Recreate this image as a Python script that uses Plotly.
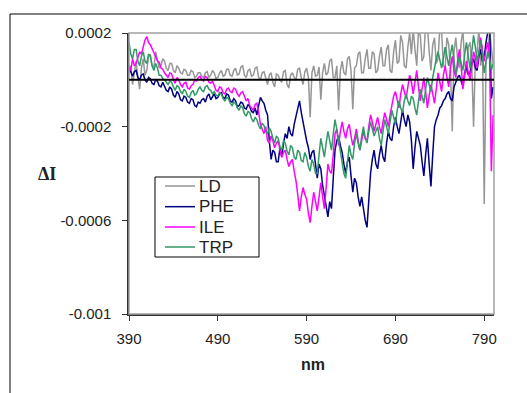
import plotly.graph_objects as go

# Wavelength grid (nm), 2 nm spacing
wavelength = list(range(390, 801, 2))

# Difference intensity, in units of 1e-4 (one row = 20 nm)
ld = [0.3, 0.6, -0.2, 0.4, 0.8, 0.1, -0.4, 0.5, 0.9, 0.2,
      0.4, 1.0, 1.1, 0.6, 0.5, 1.2, 0.9, 0.5, 0.6, 0.9,
      0.8, 0.5, 0.4, 0.7, 0.7, 0.4, 0.3, 0.6, 0.5, 0.3,
      0.25, 0.45, 0.4, 0.2, 0.2, 0.4, 0.35, 0.1, 0.15, 0.3,
      0.3, 0.15, 0.1, 0.3, 0.35, 0.1, 0.2, 0.4, 0.3, 0.05,
      0.1, 0.3, 0.4, 0.15, 0.2, 0.45, 0.45, 0.2, 0.15, 0.4,
      0.5, 0.2, 0.25, 0.55, 0.6, 0.2, 0.1, 0.4, 0.45, 0.15,
      0.2, 0.5, 0.55, 0.1, 0.0, 0.3, 0.35, 0.05, -0.2, 0.2,
      0.3, -0.1, -0.3, 0.25, 0.2, 0.0, -0.1, 0.35, 0.4, -0.2,
      -0.35, 0.2, 0.3, 0.1, 0.0, 0.45, 0.5, 0.1, -0.2, 0.35,
      0.5, 0.1, -1.6, 0.3, 0.6, 0.15, 0.2, 0.55, -0.85, 0.3,
      0.7, 0.2, 0.3, 0.8, 0.9, 0.1, 0.1, 0.6, -1.3, 0.4,
      0.8, 0.3, 0.2, 0.9, 1.0, 0.4, -1.25, 0.5, 0.6, 1.1,
      1.2, 0.3, 0.3, 0.9, 1.3, 0.5, 0.5, 1.2, 1.1, 0.3,
      0.4, 1.0, 1.4, 0.6, 0.6, 1.3, 1.5, 0.4, 0.3, 1.2,
      1.7, 0.7, 0.8, 1.9, 1.6, 0.6, 0.5, 1.4, 2.0, 1.1,
      2.2, 1.3, 0.6, 2.1, 1.9, 0.8, 1.0, 2.4, 2.3, 1.2,
      0.4, 1.5, 1.8, 0.7, 0.9, 2.2, 2.1, 0.6, 0.5, 1.8,
      1.5, 0.4, -2.2, 1.2, 1.8, 0.9, 0.5, 1.6, 2.1, 0.7,
      0.3, 1.4, 1.6, 0.6, -2.0, 0.9, 1.2, 2.2, 0.6, 1.5,
      -5.3, 0.8, 1.0, 2.1, 1.5, 0.7]

phe = [0.55, 0.3, 0.15, 0.35, 0.4, 0.1, 0.0, 0.2, 0.25, 0.0,
       -0.1, 0.1, 0.05, -0.15, -0.2, 0.0, -0.05, -0.25, -0.3, -0.1,
       -0.25, -0.45, -0.5, -0.3, -0.4, -0.65, -0.75, -0.5, -0.6, -0.85,
       -0.9, -0.7, -0.75, -0.95, -1.0, -0.8, -0.85, -1.1, -1.15, -0.95,
       -1.0, -0.85, -0.8, -0.95, -0.7, -0.6, -0.85, -0.7, -0.6, -0.8,
       -0.75, -0.6, -0.55, -0.75, -0.8, -0.6, -0.65, -0.9, -0.95, -0.8,
       -0.9, -1.15, -1.1, -0.95, -1.0, -1.2, -1.25, -1.05, -1.15, -1.35,
       -1.4, -1.2, -1.5, -1.1, -0.75, -0.9, -1.0, -1.3, -1.5, -2.6,
       -3.4, -3.0, -3.1, -3.5, -3.5, -2.9, -3.3, -2.7, -2.3, -2.5,
       -2.0, -2.3, -2.4, -1.9, -1.6, -1.3, -0.9, -1.4, -1.9, -2.2,
       -2.6, -2.9, -3.4, -3.1, -3.0, -3.7, -4.2, -3.6, -3.8, -4.5,
       -5.0, -5.5, -5.85, -5.2, -5.5, -4.2, -3.0, -2.6, -2.4, -2.8,
       -3.1, -3.6, -4.0, -3.5, -3.3, -4.1, -4.8, -4.2, -4.4, -5.0,
       -5.4, -5.0, -5.6, -6.0, -6.3, -5.2, -4.0, -3.4, -3.0, -3.6,
       -3.8, -3.2, -2.8, -3.3, -3.5, -2.7, -2.2, -2.5, -2.6, -2.0,
       -1.6, -2.0, -2.3, -1.8, -1.3, -1.7, -2.0, -1.5, -1.8, -2.6,
       -3.8, -2.9, -2.2, -2.5, -2.8, -3.5, -4.1, -3.2, -2.5, -3.6,
       -4.55, -3.2, -2.0, -1.7, -1.5, -1.2, -1.1, -0.9, -0.8, -0.6,
       -0.5, -0.8, -0.9, -0.3, -0.1, 0.1, 0.2, -0.1, -0.3, 0.3,
       0.6, 0.2, 0.3, 0.7, 0.9, 0.5, 0.4, 1.0, 1.3, 0.8,
       1.0, 1.6, 2.2, 2.5, -0.8, -0.3]

ile = [0.6, 0.4, 0.9, 0.6, 0.7, 1.0, 1.2, 1.1, 1.4, 1.7,
       1.85, 1.6, 1.5, 1.35, 1.2, 1.0, 0.8, 0.75, 0.5, 0.45,
       0.3, 0.2, 0.1, 0.3, 0.25, 0.0, -0.15, 0.1, 0.0, -0.2,
       -0.3, -0.15, -0.1, -0.35, -0.4, -0.25, -0.2, 0.0, -0.05, 0.1,
       0.15, 0.0, -0.05, 0.15, 0.1, -0.1, -0.15, -0.05, -0.3, -0.45,
       -0.5, -0.3, -0.35, -0.55, -0.6, -0.4, -0.35, -0.5, -0.55, -0.35,
       -0.4, -0.6, -0.7, -0.55, -0.5, -0.75, -0.9, -0.8, -1.1, -1.2,
       -1.3, -1.05, -1.0, -1.4, -1.9, -2.1, -2.3, -2.0, -2.6, -2.7,
       -2.4, -2.6, -2.9, -2.7, -2.6, -3.0, -3.3, -3.1, -3.0, -3.4,
       -3.7, -3.5, -3.4, -3.9, -4.3, -4.9, -5.6, -5.0, -4.6, -4.9,
       -5.1, -5.7, -6.1, -5.4, -4.8, -5.2, -5.6, -5.0, -4.4, -5.0,
       -5.5, -4.6, -3.6, -3.9, -4.0, -3.2, -2.3, -2.1, -2.8, -2.2,
       -1.8, -2.2, -2.5, -2.1, -1.9, -2.4, -2.8, -2.5, -2.1, -2.6,
       -3.0, -2.6, -2.2, -2.5, -2.6, -2.0, -1.5, -1.8, -2.2, -1.9,
       -1.6, -2.0, -2.3, -1.8, -1.4, -1.7, -2.0, -1.5, -1.0, -0.7,
       -0.5, -0.9, -1.2, -0.6, -0.2, -0.5, -0.8, -0.3, 0.2, -0.1,
       -0.6, -0.1, 0.4, -0.3, -0.9, -0.4, 0.1, -0.5, -1.2, -0.7,
       -0.2, -0.6, -1.0, -0.4, 0.3, -0.1, -0.5, 0.2, 0.6, 0.1,
       -0.3, 0.5, 1.0, 0.4, 0.1, 0.8, 1.3, 0.6, -0.4, 0.2,
       0.8, 0.3, 0.0, 0.6, 1.2, 0.9, 0.5, 1.1, 1.8, 1.2,
       0.8, 1.3, 1.6, 1.0, -3.9, -1.5]

trp = [1.6, 1.1, 0.9, 1.3, 1.3, 0.8, 0.6, 1.0, 1.2, 0.8,
       0.7, 1.1, 1.0, 0.6, 0.4, 0.7, 0.5, 0.2, 0.2, 0.05,
       0.0, -0.1, -0.2, -0.05, -0.1, -0.3, -0.45, -0.25, -0.3, -0.5,
       -0.6, -0.4, -0.5, -0.7, -0.75, -0.55, -0.45, -0.65, -0.6, -0.4,
       -0.3, -0.45, -0.5, -0.3, -0.25, -0.4, -0.45, -0.6, -0.5, -0.65,
       -0.7, -0.55, -0.6, -0.8, -0.9, -0.75, -0.8, -1.0, -1.1, -0.95,
       -1.0, -1.2, -1.3, -1.1, -1.2, -1.45, -1.55, -1.35, -1.4, -1.65,
       -1.8, -1.6, -1.7, -1.95, -2.1, -1.85, -1.95, -2.2, -2.3, -2.05,
       -2.2, -2.5, -2.7, -2.4, -2.5, -2.85, -3.0, -2.6, -2.7, -3.05,
       -3.2, -2.8, -2.9, -3.3, -3.4, -3.0, -3.1, -3.45, -3.5, -3.1,
       -3.3, -3.7, -3.9, -3.4, -3.6, -4.0, -4.0, -3.2, -2.5, -2.9,
       -3.3, -2.7, -2.2, -2.6, -3.0, -2.3, -1.7, -2.1, -2.6, -3.2,
       -3.6, -4.0, -4.2, -3.4, -2.8, -3.2, -3.4, -2.7, -2.3, -2.7,
       -3.0, -2.4, -2.0, -2.5, -2.7, -2.2, -1.8, -2.1, -2.4, -2.2,
       -2.0, -2.5, -2.8, -2.2, -1.7, -2.0, -2.3, -1.8, -1.3, -1.6,
       -1.9, -1.3, -0.9, -1.2, -1.4, -0.9, -0.6, -0.9, -1.1, -0.7,
       -0.8, -1.2, -1.5, -0.9, -0.4, -0.7, -1.0, -0.4, 0.1, -0.2,
       -0.5, 0.1, 0.6, 0.9, 1.2, 0.8, 0.5, 0.9, 1.4, 1.0,
       0.6, 1.1, 1.5, 0.8, 0.2, 0.6, 1.0, 0.7, 0.4, 1.1,
       1.6, 1.0, 0.5, 1.2, 1.9, 1.4, 0.8, 1.2, 1.7, 1.0,
       0.3, 0.8, 1.2, 0.9, 0.4, 0.7]

series = [("LD", ld, "#969696"),
          ("PHE", phe, "#000080"),
          ("ILE", ile, "#FF00FF"),
          ("TRP", trp, "#339966")]

y_ticks = [0.0002, -0.0002, -0.0006, -0.001]
y_tick_text = ["0.0002", "-0.0002", "-0.0006", "-0.001"]
x_ticks = [390, 490, 590, 690, 790]

for _, vals, _ in series:
    assert len(vals) == len(wavelength)

fig = go.Figure()
for name, vals, color in series:
    fig.add_trace(go.Scatter(
        x=wavelength, y=[v * 1e-4 for v in vals], name=name, mode="lines",
        line=dict(color=color, width=1.5), showlegend=False,
    ))

# Plot-area border (light gray), zero reference line, outer page frame
fig.add_shape(type="rect", xref="paper", yref="paper", x0=0, x1=1, y0=0, y1=1,
              line=dict(color="#a0a0a0", width=1.5), layer="above")
fig.add_shape(type="line", xref="paper", yref="y", x0=0, x1=1, y0=0, y1=0,
              line=dict(color="black", width=2), layer="above")
fig.add_shape(type="rect", xref="paper", yref="paper", x0=-0.326, x1=1.3, y0=-0.5, y1=1.0676,
              line=dict(color="black", width=1), layer="above")

# Legend box with one sample line and label per series
label_font = dict(family="Liberation Sans, Arial, sans-serif", size=17, color="#222222")
fig.add_shape(type="rect", xref="paper", yref="paper", x0=0.0712, x1=0.3562,
              y0=0.2028, y1=0.4875, line=dict(color="black", width=1),
              fillcolor="white", layer="above")
annotations = []
legend_rows = [0.4555, 0.3819, 0.3096, 0.2384]
for (name, _, color), ly in zip(series, legend_rows):
    fig.add_shape(type="line", xref="paper", yref="paper", x0=0.0986, x1=0.1808,
                  y0=ly, y1=ly, line=dict(color=color, width=1.5), layer="above")
    annotations.append(dict(text=name, xref="paper", yref="paper", x=0.187, y=ly,
                            xanchor="left", yanchor="middle", showarrow=False,
                            font=label_font))

axis_font = dict(family="Liberation Sans, Arial, sans-serif", size=15, color="#222222")

annotations += [
    dict(text="<b>ΔI</b>", xref="paper", yref="paper", x=-0.224, y=0.498,
         xanchor="center", yanchor="middle", showarrow=False,
         font=dict(family="Liberation Serif, Times New Roman, serif", size=18, color="#222222")),
    dict(text="<b>nm</b>", xref="paper", yref="paper", x=0.504, y=-0.178,
         xanchor="center", yanchor="middle", showarrow=False,
         font=dict(family="Liberation Sans, Arial, sans-serif", size=16, color="#222222")),
]

fig.update_layout(
    width=527, height=393,
    margin=dict(l=129, r=33, t=33, b=79),
    paper_bgcolor="white", plot_bgcolor="white",
    showlegend=False,
    xaxis=dict(range=[390, 801], tickvals=x_ticks, ticks="outside", ticklen=5,
               tickcolor="#333333", showline=True, linecolor="#333333", linewidth=1.5,
               showgrid=False, zeroline=False, tickfont=axis_font, ticklabelstandoff=5),
    yaxis=dict(range=[-0.001, 0.0002], tickvals=y_ticks, ticktext=y_tick_text,
               ticks="outside", ticklen=5, tickcolor="#333333", showline=True,
               linecolor="#333333", linewidth=1.5, showgrid=False, zeroline=False,
               tickfont=axis_font, ticklabelstandoff=8),
    annotations=annotations,
)

fig.write_html("out.html")
